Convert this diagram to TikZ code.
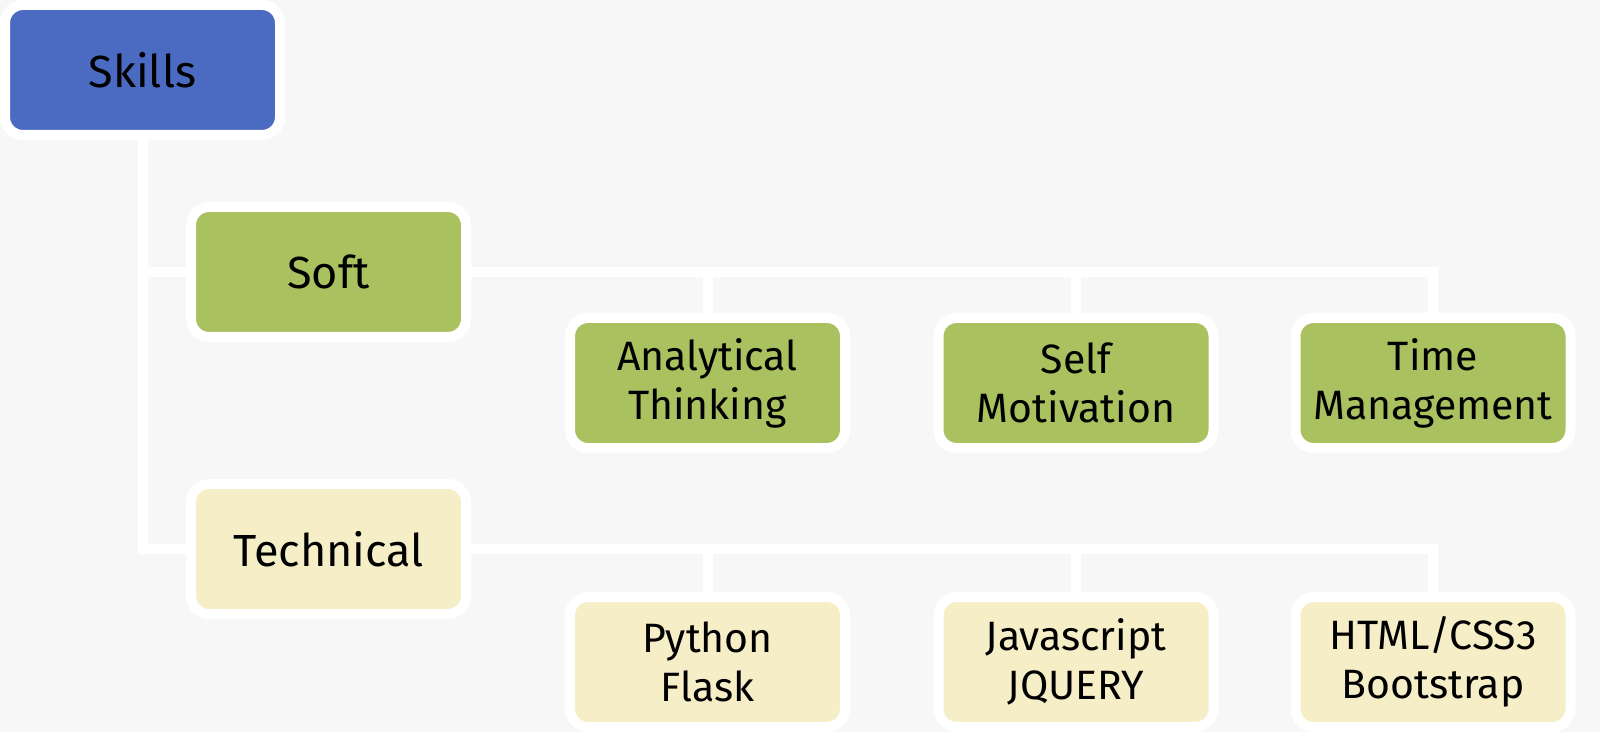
\documentclass[tikz,border=0pt]{standalone}
\usepackage{fontspec}
\setmainfont{Fira Sans}
\definecolor{bg}{HTML}{F7F7F7}
\definecolor{skillblue}{HTML}{4B6BC3}
\definecolor{softgreen}{HTML}{AAC160}
\definecolor{techcream}{HTML}{F5EEC6}
\pgfdeclarelayer{bglayer}
\pgfdeclarelayer{connlayer}
\pgfsetlayers{bglayer,connlayer,main}
\tikzset{
  box/.style={draw=white, line width=5pt, rounded corners=9pt,
    minimum width=137.5pt, minimum height=65pt, inner sep=0pt,
    align=center, text=black, font=\fontsize{20.5pt}{24.5pt}\selectfont},
  topbox/.style={box, font=\fontsize{22.5pt}{26pt}\selectfont},
  conn/.style={draw=white, line width=5pt, line join=miter}
}
\begin{document}
\begin{tikzpicture}[x=0.5pt,y=-0.5pt]
\begin{pgfonlayer}{bglayer}
\fill[bg] (0,0) rectangle (1600,732);
\end{pgfonlayer}
\useasboundingbox (0,0) rectangle (1600,732);
% nodes
\node[topbox, fill=skillblue] (skills) at (142.5,70) {Skills};
\node[topbox, fill=softgreen] (soft) at (328.5,272) {Soft};
\node[topbox, fill=techcream] (tech) at (328.5,549) {Technical};
\node[box, fill=softgreen] (anal) at (707.5,383) {Analytical\\Thinking};
\node[box, fill=softgreen] (self) at (1076,383) {Self\\Motivation};
\node[box, fill=softgreen] (time) at (1433,383) {Time\\Management};
\node[box, fill=techcream] (py) at (707.5,662) {Python\\Flask};
\node[box, fill=techcream] (js) at (1076,662) {Javascript\\JQUERY};
\node[box, fill=techcream] (html) at (1433,662) {HTML/CSS3\\Bootstrap};
% connectors (behind the boxes)
\begin{pgfonlayer}{connlayer}
\draw[conn] (skills.south) |- (tech.west);
\draw[conn] (skills.south |- soft.west) -- (soft.west);
\draw[conn] (soft.east) -| (time.north);
\draw[conn] (anal.north) -- (anal.north |- soft.east);
\draw[conn] (self.north) -- (self.north |- soft.east);
\draw[conn] (tech.east) -| (html.north);
\draw[conn] (py.north) -- (py.north |- tech.east);
\draw[conn] (js.north) -- (js.north |- tech.east);
\end{pgfonlayer}
\end{tikzpicture}
\end{document}
